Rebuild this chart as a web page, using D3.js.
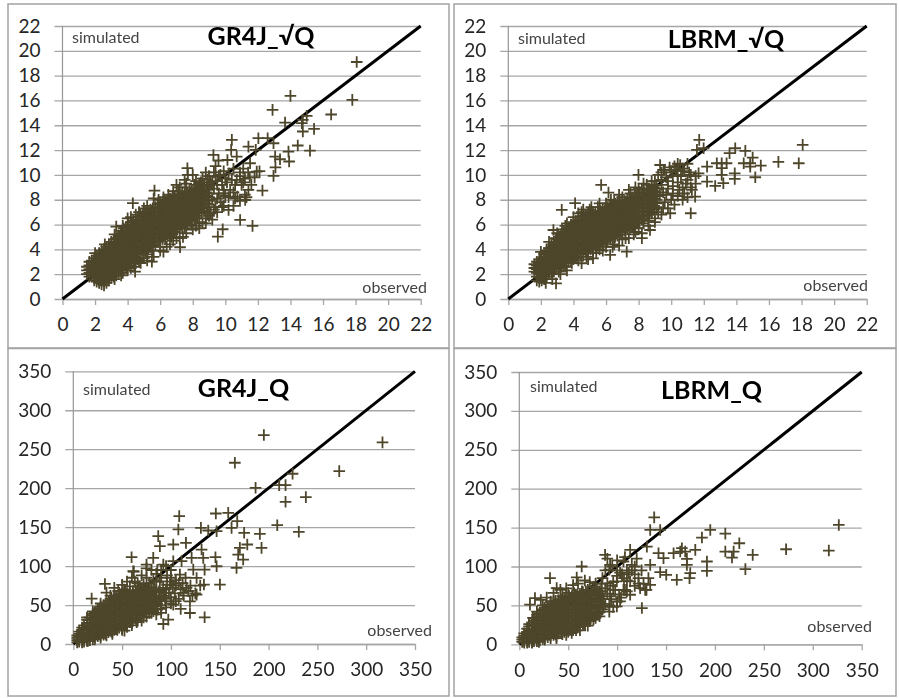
<!DOCTYPE html>
<html>
<head>
<meta charset="utf-8">
<script src="https://cdnjs.cloudflare.com/ajax/libs/d3/7.8.5/d3.min.js"></script>
<style>
  html, body { margin: 0; background: #fff; }
  svg { display: block; filter: blur(0.4px); }
  text { font-family: Lato, "Open Sans", sans-serif; }
</style>
</head>
<body>
<script>
const w = 899;
const h = 698;

const sqrtTicks = [0, 2, 4, 6, 8, 10, 12, 14, 16, 18, 20, 22];
const flowTicks = [0, 50, 100, 150, 200, 250, 300, 350];
const diagonalSqrt = [[0, 0], [22, 22]];
const diagonalFlow = [[0, 0], [350, 350]];

// the separate crosses, [observed, simulated]
const gr4jSqrtPoints = [[18.07,19.1],[17.8,16.05],[14,16.37],[12.9,15.24],[16.5,14.87],[15,14.76],[14.76,14.44],[13.67,14.22],[15.45,13.71],[14.7,14.17],[14.76,13.5],[14.45,12.37],[15.2,11.96],[13.88,11.88],[13.92,11.08],[13.36,11.26],[13.06,11.48],[13.08,10.6],[12.96,9.92],[12.03,12.96],[12.6,12.96],[12.96,12.55],[11.42,12.28],[11.87,12.02],[10.4,12.82],[10.36,12.02],[9.27,11.61],[9.58,11.16],[10.7,11.48],[10.13,11.2],[7.67,10.54],[11.52,10.94],[11.93,10.27],[12.28,8.74],[11.42,8.79],[11.22,7.98],[10.91,6.37],[11.67,5.89],[9.84,5.62],[9.54,5.03],[10.2,7.18],[10.74,8.25],[5.65,8.74],[4.32,7.72],[3.3,5.83],[7.22,4.17],[6.2,3.82],[5.49,3.01],[4.46,2.2],
  [9.3,8.9],[9.5,9.5],[9.7,10],[9.9,10.3],[10,9.7],[10.2,10.1],[9.4,9.9],[9.8,9.2],[10.4,9.6],[10.6,9.2],[10.9,9.9],[11.2,9.7],[11.4,10.2],[11.1,10.5],[10.5,10.5],[9.6,8.5],[10,8.3],[10.3,8.8],[9.2,8],[9.7,7.8],[10.9,7.9],[11.3,8.2],[10.6,8.1],[9.3,7.2],[9.1,6.9],[8.8,6.5],[8.4,6.2],[7.9,6],[7.4,5],[7,4.9],[6.6,4.4],[6,4.2],[5.5,3.9],[5,3.3],[4.7,3],[4.2,2.5],[3.7,2.1],[5.6,8.1],[6.2,8.2],[6.8,8.7],[7.2,9],[7.6,9.3],[7.7,10],[8.2,9.5],[8.6,9.7],[9,9.9],[9.4,10.7],[5,7.3],[4.5,6.8],[4,6.5],[11.8,9.8],[12.1,10.3],[11.6,9.2],[11,9.2],
  [7,9.2],[7.5,9.6],[8,10],[8.4,9.3],[8.8,10.2],[9.1,9.4],[9.5,9.2],[8.2,5.9],[8.6,6.1],[9,6.7],[9.4,7.4],[9.8,7.4],[9.9,8.8],[10.1,9.4],[10.5,8.6],[10.7,9.6],[10.9,10.2],[11.1,9.4],[11.5,9.8],[11.2,8.4],[10.2,8.2],[10.5,7.5],[9.5,8.1],[9.9,8.5],[9.2,9.4],[9.6,9.9],[9.3,10.2],[8.9,9.6],[8.5,9.4],[8.1,9.2],[7.6,9],[7.1,8.7],[6.5,8.4],[5.9,8],[5.2,7.5],[4.7,7],[4.2,6.6],[3.7,5.9],[3.2,5.2],[2.6,4.4],[2,3.7],[3.2,1.6],[3.6,1.9],[4,2.3],[4.4,2.6],[4.8,2.9],[5.2,3.1],[5.6,3.4],[6,3.9],[6.4,4.2],[6.8,4.7],[7.2,4.9],[7.6,5.3],[8,5.6],[8.4,5.7],[8.8,6.1],[9.2,6.4],[9.5,7],[9.9,7.5],[5.2,3.6],[4.6,3.2],[6.7,5],[7.5,5.7],[8.3,6.5],[8.9,6.9]];
const lbrmSqrtPoints = [[18.07,12.42],[17.83,10.94],[16.58,11.05],[15.5,10.75],[15.16,9.81],[15,11.4],[14.55,11.94],[13.93,12.15],[13.58,11.75],[14.45,10.94],[14.85,10.94],[14.85,10.67],[13.9,10.13],[13.9,9.68],[13.2,9.33],[12.7,9.11],[13.1,10],[13.1,10.54],[12.8,10.94],[13.1,10.94],[13.4,10.94],[12.2,9.46],[12.2,10.67],[11.68,10.13],[11.72,12.82],[11.58,12.02],[11.99,12.15],[11.2,6.91],[11.47,8.25],[11.27,8.79],[9.32,10.8],[9.53,10.4],[10.55,10.8],[7.99,10],[5.7,9.19],[6.15,8.58],[4.1,7.72],[3.28,7.18],[2.77,5.56],[2.93,1.26],[7.27,3.82],[8.2,4.9],[8.7,5.56],[9.94,6.91],[6.25,3.55],[5.2,3.28],[4.5,2.88],
  [9.4,9.6],[9.7,9.8],[10,10.2],[10.3,10.4],[10.6,9.9],[9.5,8.6],[9.8,8.9],[10.1,9.1],[10.4,9.4],[10.7,9],[11,9.6],[11.2,10],[11.5,9.3],[9.6,7.8],[10,8],[10.4,8.3],[10.8,8.5],[9.2,7],[9,6.5],[8.6,6.3],[8,5.7],[7.7,5.2],[7.2,4.9],[6.8,4.3],[6.4,4.2],[5.8,3.9],[5.4,3.7],[4.9,3.2],[3.2,2],[3.6,2.3],[2.9,4.9],[3.3,5.6],[3.6,6.1],[4.6,7.2],[5.1,7.4],[5.6,7.7],[6.3,8],[6.8,8.4],[7.4,8.8],[7.8,9],[8.3,9.3],[8.8,9.5],[9.2,10],[9.6,10.4],[10.2,10.7],[10.7,10.5],[11,10.9],[4.3,6.9],
  [2.3,1.3],[2.7,1.6],[3.1,2.2],[3.5,2.6],[3.9,2.9],[4.3,3.1],[4.8,3.4],[5.2,3.7],[5.6,4],[6,4.2],[6.5,4.4],[7,4.8],[7.4,4.9],[7.8,5.4],[8.2,5.3],[8.6,5.9],[9,6.2],[9.4,6.8],[9.8,7.3],[8.8,6.9],[8.3,6.1],[2,3.8],[2.5,4.6],[3,5.3],[3.5,5.9],[4,6.6],[4.5,7],[5,7.2],[5.5,7.4],[6,7.7],[6.5,7.9],[7,8.2],[7.5,8.5],[8,8.9],[8.5,9.2],[9,9.5],[9.4,9.2],[9.8,9.5],[10.1,9.9],[10.4,10],[10.8,10.3],[11.1,10.2],[9.3,8.4],[9.7,8.4],[10.1,8.5],[10.5,8.8],[10.9,9.3],[11.2,9],[11.5,9.9],[9.5,7.3],[10.2,7.6],[10.7,8],[11,8.2],[9.4,10.2],[9.9,10.6],[10.4,10.9]];
const gr4jFlowPoints = [[316.7,258.8],[272.4,221.9],[195.2,268.2],[165.5,232.6],[224.6,218.5],[186.7,200.5],[210.9,203.9],[217.4,203.9],[217.4,182.5],[238.2,188.5],[208.9,152.5],[231,144],[191.1,141.4],[192.8,123.4],[178.2,127.7],[175,142.7],[170.6,123.4],[168.9,114.8],[174,108.4],[167.2,97.7],[146,167.5],[158.7,168.4],[167.9,157.7],[162.1,149.1],[146.8,144.8],[138.2,145.7],[130.7,149.1],[108.5,164.1],[107.6,147],[87,138.4],[88.7,125.5],[102.4,127.7],[115.4,129.8],[131.4,121.2],[133.1,110.5],[145.6,111.4],[146.8,99.8],[150.2,76.3],[133.8,76.3],[134.5,34.3],[119.5,39.8],[97.3,31.3],[92.2,25.7],[59.7,111.4],[32.4,77.1],[18.8,58.3],[81.9,110.5],[52.4,17.1],[126.3,63.4],[112.6,65.6],[119.5,54.8],[102.4,50.6],[121.2,110.5],[122.9,95.5],[109.2,89.1],[126.3,84.8],[134.5,95.5],[75,102],[61.4,93.4],[88.7,80.5],[99,76.3],[93.9,65.6],[102.4,106.3],[92.2,102],[110.9,106.3],
  [34,66],[42,72],[50,76],[55,80],[60,85],[62,93],[70,88],[66,78],[75,85],[80,95],[85,90],[90,95],[95,100],[85,80],[75,97],[40,15],[50,20],[60,24],[65,28],[70,30],[75,35],[80,40],[85,38],[90,45],[95,55],[100,60],[105,55],[110,45],[95,70],[100,80],[105,75],[110,70],[115,85],[90,60],[85,70],[100,95],[120,75],[125,65],[130,75],[85,55],
  [83,48],[86,52],[88,57],[90,50],[92,62],[88,68],[84,62],[94,58],[96,76],[98,66],[100,85],[102,72],[105,82],[108,78],[92,72],[96,88],[90,85],[86,95],[82,82],[78,78],[72,76],[68,74],[63,80],[58,74],[52,70],[46,68],[38,62],[28,52],[20,42],[14,34],[15,4],[22,6],[28,8],[34,11],[40,13],[45,18],[50,18],[55,22],[60,27],[66,30],[72,34],[78,40],[82,42],[86,44],[90,40],[95,47],[100,52],[108,58],[113,62],[118,68],[122,62],[112,78],[104,65],[116,72]];
const lbrmFlowPoints = [[326.6,153.4],[316.4,120.5],[272.7,122.2],[238.6,115],[231.1,96.6],[224.9,129.9],[210.6,142.3],[195.2,147],[186.7,137.2],[210.6,119.2],[219.1,119.2],[217.4,111.5],[191.8,106.4],[191.8,94.4],[179.9,121.4],[166.2,123.5],[164.5,119.2],[157.7,117.1],[169.6,119.2],[171.3,109.8],[171.3,102.1],[174.7,91.5],[174,85],[161,82.9],[150.2,89.3],[144,92.7],[137.9,163.2],[133.8,147],[144,147],[142.3,117.1],[147.4,110.7],[133.8,102.1],[125.3,46.6],[128.7,70],[133.8,76.5],[121.8,85],[113.3,121.4],[130.4,125.6],[87.7,115],[31.4,85],[63.8,100],[58.7,85.9],[99.7,48.7],[113.3,63.7],[67.2,24.4],[53.6,14.5],[75.8,31.6],[10.9,50.9],[16,59.4],[38.2,72.2],[92.8,102.1],[106.5,106.4],[115,102.1],[99.7,80.8],[113.3,80.8],[123.5,72.2],[106.5,70],[92.8,61.5],[103,55.1],
  [22,57],[28,60],[35,66],[42,70],[48,72],[55,76],[60,78],[67,82],[72,80],[78,78],[85,85],[88,95],[90,110],[95,100],[100,95],[84,72],[90,78],[96,70],[86,58],[92,50],[85,45],[80,40],[72,30],[65,26],[58,18],[48,12],[38,8],[105,90],[110,95],[118,90],[125,95],
  [82,55],[85,62],[88,72],[84,68],[90,65],[93,75],[96,80],[100,88],[103,92],[107,85],[110,82],[112,92],[115,95],[98,70],[102,64],[108,70],[94,58],[88,52],[86,48],[92,42],[96,48],[100,55],[104,60],[110,68],[118,75],[122,78],[127,78],[130,70],[132,85],[118,100],[120,110],[108,112],[100,108],[92,96],[84,78],[76,74],[70,70],[64,68],[56,66],[50,66],[44,62],[32,55],[24,50],[18,42],[14,34],[10,26],[13,2],[20,3],[26,6],[32,8],[38,10],[44,13],[50,16],[55,18],[60,22],[66,26],[72,30],[78,34],[82,36],[70,24],[62,18]];

// overplotted core: observed value first, then the simulated values at it
const gr4jSqrtCore = [[1.5,2.0,2.3,2.6],[1.65,1.8,2.1,2.4,2.7,3.0],[1.8,1.9,2.2,2.5,2.8,3.1],[1.95,1.5,1.8,2.1,2.4,2.7,3.0,3.3],[2.1,1.4,1.7,2.0,2.3,2.6,2.9,3.2,3.5],[2.25,1.3,1.6,1.9,2.2,2.5,2.8,3.1,3.4,3.7],[2.4,1.2,1.5,1.8,2.1,2.4,2.7,3.0,3.3,3.6,3.9],[2.55,1.1,1.4,1.7,2.0,2.3,2.6,2.9,3.2,3.5,3.8,4.0],[2.7,1.3,1.6,1.9,2.2,2.5,2.8,3.1,3.4,3.7,4.0,4.2],[2.85,1.5,1.8,2.1,2.4,2.7,3.0,3.3,3.6,3.9,4.2,4.4],[3.0,1.7,2.0,2.3,2.6,2.9,3.2,3.5,3.8,4.1,4.4,4.6],[3.15,1.8,2.1,2.4,2.7,3.0,3.3,3.6,3.9,4.2,4.5,4.8],[3.3,1.9,2.2,2.5,2.8,3.1,3.4,3.7,4.0,4.3,4.6,4.9],[3.45,2.1,2.4,2.7,3.0,3.3,3.6,3.9,4.2,4.5,4.8,5.1],[3.6,2.3,2.6,2.9,3.2,3.5,3.8,4.1,4.4,4.7,5.0,5.3,5.5],[3.75,2.4,2.7,3.0,3.3,3.6,3.9,4.2,4.5,4.8,5.1,5.4,5.7],[3.9,2.5,2.8,3.1,3.4,3.7,4.0,4.3,4.6,4.9,5.2,5.5,5.8],[4.05,2.7,3.0,3.3,3.6,3.9,4.2,4.5,4.8,5.1,5.4,5.7,6.0],[4.2,2.9,3.2,3.5,3.8,4.1,4.4,4.7,5.0,5.3,5.6,5.9,6.2],[4.35,3.0,3.3,3.6,3.9,4.2,4.5,4.8,5.1,5.4,5.7,6.0,6.3],[4.5,3.1,3.4,3.7,4.0,4.3,4.6,4.9,5.2,5.5,5.8,6.1,6.4],[4.65,3.3,3.6,3.9,4.2,4.5,4.8,5.1,5.4,5.7,6.0,6.3,6.6],[4.8,3.6,3.9,4.2,4.5,4.8,5.1,5.4,5.7,6.0,6.3,6.6,6.8],[4.95,3.7,4.0,4.3,4.6,4.9,5.2,5.5,5.8,6.1,6.4,6.7,6.9],[5.1,3.8,4.1,4.4,4.7,5.0,5.3,5.6,5.9,6.2,6.5,6.8,7.0],[5.25,4.0,4.3,4.6,4.9,5.2,5.5,5.8,6.1,6.4,6.7,7.0],[5.4,4.2,4.5,4.8,5.1,5.4,5.7,6.0,6.3,6.6,6.9,7.2],[5.55,4.3,4.6,4.9,5.2,5.5,5.8,6.1,6.4,6.7,7.0,7.3],[5.7,4.4,4.7,5.0,5.3,5.6,5.9,6.2,6.5,6.8,7.1,7.4],[5.85,4.6,4.9,5.2,5.5,5.8,6.1,6.4,6.7,7.0,7.3,7.6],[6.0,4.7,5.0,5.3,5.6,5.9,6.2,6.5,6.8,7.1,7.4,7.7],[6.15,4.8,5.1,5.4,5.7,6.0,6.3,6.6,6.9,7.2,7.5,7.8],[6.3,4.9,5.2,5.5,5.8,6.1,6.4,6.7,7.0,7.3,7.6,7.9],[6.45,5.1,5.4,5.7,6.0,6.3,6.6,6.9,7.2,7.5,7.8,8.0],[6.6,5.2,5.5,5.8,6.1,6.4,6.7,7.0,7.3,7.6,7.9,8.1],[6.75,5.3,5.6,5.9,6.2,6.5,6.8,7.1,7.4,7.7,8.0,8.2],[6.9,5.4,5.7,6.0,6.3,6.6,6.9,7.2,7.5,7.8,8.1,8.3],[7.05,5.6,5.9,6.2,6.5,6.8,7.1,7.4,7.7,8.0,8.3],[7.2,5.7,6.0,6.3,6.6,6.9,7.2,7.5,7.8,8.1,8.4],[7.35,5.8,6.1,6.4,6.7,7.0,7.3,7.6,7.9,8.2,8.5],[7.5,5.9,6.2,6.5,6.8,7.1,7.4,7.7,8.0,8.3,8.6],[7.65,6.1,6.4,6.7,7.0,7.3,7.6,7.9,8.2,8.5],[7.8,6.3,6.6,6.9,7.2,7.5,7.8,8.1,8.4,8.7],[7.95,6.4,6.7,7.0,7.3,7.6,7.9,8.2,8.5,8.8],[8.1,6.5,6.8,7.1,7.4,7.7,8.0,8.3,8.6,8.9],[8.25,6.7,7.0,7.3,7.6,7.9,8.2,8.5,8.8],[8.4,6.9,7.2,7.5,7.8,8.1,8.4,8.7,9.0],[8.55,7.0,7.3,7.6,7.9,8.2,8.5,8.8,9.1],[8.7,7.1,7.4,7.7,8.0,8.3,8.6,8.9,9.2],[8.85,7.4,7.7,8.0,8.3,8.6,8.9],[9.0,7.6,7.9,8.2,8.5,8.8,9.1]];
const lbrmSqrtCore = [[1.6,2.2,2.5,2.8],[1.75,1.5,1.8,2.1,2.4,2.7,3.0],[1.9,1.4,1.7,2.0,2.3,2.6,2.9,3.2],[2.05,1.5,1.8,2.1,2.4,2.7,3.0,3.3],[2.2,1.6,1.9,2.2,2.5,2.8,3.1,3.4,3.7],[2.35,1.8,2.1,2.4,2.7,3.0,3.3,3.6,3.9],[2.5,2.0,2.3,2.6,2.9,3.2,3.5,3.8,4.1],[2.65,2.1,2.4,2.7,3.0,3.3,3.6,3.9,4.2,4.4],[2.8,2.2,2.5,2.8,3.1,3.4,3.7,4.0,4.3,4.6],[2.95,2.4,2.7,3.0,3.3,3.6,3.9,4.2,4.5,4.8],[3.1,2.5,2.8,3.1,3.4,3.7,4.0,4.3,4.6,4.9],[3.25,2.6,2.9,3.2,3.5,3.8,4.1,4.4,4.7,5.0,5.2],[3.4,2.7,3.0,3.3,3.6,3.9,4.2,4.5,4.8,5.1,5.4],[3.55,2.9,3.2,3.5,3.8,4.1,4.4,4.7,5.0,5.3,5.6],[3.7,3.0,3.3,3.6,3.9,4.2,4.5,4.8,5.1,5.4,5.7],[3.85,3.1,3.4,3.7,4.0,4.3,4.6,4.9,5.2,5.5,5.8,6.0],[4.0,3.2,3.5,3.8,4.1,4.4,4.7,5.0,5.3,5.6,5.9,6.2],[4.15,3.3,3.6,3.9,4.2,4.5,4.8,5.1,5.4,5.7,6.0,6.3],[4.3,3.4,3.7,4.0,4.3,4.6,4.9,5.2,5.5,5.8,6.1,6.4],[4.45,3.6,3.9,4.2,4.5,4.8,5.1,5.4,5.7,6.0,6.3,6.6],[4.6,3.7,4.0,4.3,4.6,4.9,5.2,5.5,5.8,6.1,6.4,6.7],[4.75,3.8,4.1,4.4,4.7,5.0,5.3,5.6,5.9,6.2,6.5,6.8],[4.9,3.9,4.2,4.5,4.8,5.1,5.4,5.7,6.0,6.3,6.6,6.9],[5.05,4.0,4.3,4.6,4.9,5.2,5.5,5.8,6.1,6.4,6.7,7.0],[5.2,4.1,4.4,4.7,5.0,5.3,5.6,5.9,6.2,6.5,6.8,7.0],[5.35,4.2,4.5,4.8,5.1,5.4,5.7,6.0,6.3,6.6,6.9],[5.5,4.3,4.6,4.9,5.2,5.5,5.8,6.1,6.4,6.7,7.0],[5.65,4.4,4.7,5.0,5.3,5.6,5.9,6.2,6.5,6.8,7.1],[5.8,4.5,4.8,5.1,5.4,5.7,6.0,6.3,6.6,6.9,7.2],[5.95,4.6,4.9,5.2,5.5,5.8,6.1,6.4,6.7,7.0,7.3],[6.1,4.7,5.0,5.3,5.6,5.9,6.2,6.5,6.8,7.1,7.4],[6.25,4.8,5.1,5.4,5.7,6.0,6.3,6.6,6.9,7.2,7.5],[6.4,4.9,5.2,5.5,5.8,6.1,6.4,6.7,7.0,7.3,7.6],[6.55,5.0,5.3,5.6,5.9,6.2,6.5,6.8,7.1,7.4,7.7],[6.7,5.1,5.4,5.7,6.0,6.3,6.6,6.9,7.2,7.5,7.8],[6.85,5.2,5.5,5.8,6.1,6.4,6.7,7.0,7.3,7.6,7.8],[7.0,5.4,5.7,6.0,6.3,6.6,6.9,7.2,7.5,7.9],[7.15,5.5,5.8,6.1,6.4,6.7,7.0,7.3,7.6,7.9],[7.3,5.6,5.9,6.2,6.5,6.8,7.1,7.4,7.7,8.0],[7.45,5.7,6.0,6.3,6.6,6.9,7.2,7.5,7.8,8.1],[7.6,5.8,6.1,6.4,6.7,7.0,7.3,7.6,7.9,8.2],[7.75,5.9,6.2,6.5,6.8,7.1,7.4,7.7,8.0,8.3],[7.9,6.1,6.4,6.7,7.0,7.3,7.6,7.9,8.2,8.5],[8.05,6.2,6.5,6.8,7.1,7.4,7.7,8.0,8.3,8.6],[8.2,6.4,6.7,7.0,7.3,7.6,7.9,8.2,8.5,8.8],[8.35,6.5,6.8,7.1,7.4,7.7,8.0,8.3,8.6],[8.5,6.7,7.0,7.3,7.6,7.9,8.2,8.5,8.8],[8.65,6.8,7.1,7.4,7.7,8.0,8.3,8.6,8.9],[8.8,7.0,7.3,7.6,7.9,8.2,8.5,8.8,9.1],[8.95,7.2,7.5,7.8,8.1,8.4,8.7,9.0],[9.1,7.4,7.7,8.0,8.3,8.6,8.9,9.2]];
const gr4jFlowCore = [[4,2,5,8,11],[6,3,6,10,13,16],[9,2,5,9,13,18,21],[11,3,7,11,15,20,24],[14,4,8,13,17,22,26,31],[17,5,9,13,18,22,27,31,34],[20,6,10,15,19,24,28,33,37,39],[22,8,12,17,21,26,30,35,39,41],[25,10,14,19,23,28,32,37,41,44],[28,11,15,20,24,29,33,38,42,46,48],[31,12,16,21,25,30,34,39,43,48,50],[33,13,17,22,26,31,35,40,44,49,52],[36,15,19,24,28,33,37,42,46,51,55],[39,16,20,25,29,34,38,43,47,52,56,58],[42,18,22,27,31,36,40,45,49,54,58,60],[44,19,23,28,32,37,41,46,50,55,59,62],[47,21,25,30,34,39,43,48,52,57,61,63],[50,22,26,31,35,40,44,49,53,58,62,64],[53,24,28,33,37,42,46,51,55,60,64,66],[55,26,30,35,39,44,48,53,57,62,65],[58,28,32,37,41,46,50,55,59,64,67],[61,30,34,39,43,48,52,57,61,65,68],[64,32,36,41,45,50,54,59,63,67,69],[66,34,38,43,47,52,56,61,65,69],[69,37,41,46,50,55,59,64,68,70],[72,39,43,48,52,57,61,66,70],[75,42,46,51,55,60,64,68,72],[77,44,48,53,57,62,66,70],[80,46,50,55,59,64,68,73],[83,50,54,58,62,66,70]];
const lbrmFlowCore = [[3,3,6,9],[5,2,4,7,11,14],[8,2,5,8,12,16,20],[10,3,6,10,14,18,23],[13,3,6,10,15,19,24,28],[15,4,7,11,16,20,25,30,33],[18,4,8,12,17,21,26,30,35,38],[21,5,9,14,18,23,27,32,36,40],[24,7,11,16,20,25,29,34,38,43,45],[26,8,12,17,21,26,30,35,39,44,47],[29,9,13,18,22,27,31,36,40,45,49],[32,11,15,19,24,28,33,37,42,46,51],[35,12,16,21,25,30,34,39,43,48,52,55],[37,13,17,22,26,31,35,40,44,49,53,56],[40,14,18,23,27,32,36,41,45,50,54,57],[43,15,19,24,28,33,37,42,46,51,55,58],[46,16,20,25,29,34,38,43,47,52,56,60],[48,18,22,27,31,36,40,45,49,54,58,61],[51,19,23,28,32,37,41,46,50,55,59,62],[54,21,25,30,34,39,43,48,52,57,61,63],[57,22,26,31,35,40,44,49,53,58,62,64],[59,24,28,33,37,42,46,51,55,60,64],[62,26,30,35,39,44,48,53,57,62,65],[65,28,32,37,41,46,50,55,59,64,67],[68,30,34,39,43,48,52,57,61,66,68],[70,32,36,41,45,50,54,59,63,67],[73,33,37,42,46,51,55,60,64,68],[76,36,40,45,49,54,58,63,67,70],[79,38,42,47,51,56,60,65,69,71],[82,41,45,50,54,59,63,68]];

// layout of each panel, in pixels
const panels = [
  { title: "GR4J_√Q", ticks: sqrtTicks, diagonal: diagonalSqrt, points: gr4jSqrtPoints, core: gr4jSqrtCore,
    frame: [8, 4, 441, 344], xr: [62.5, 420.7], yr: [299, 26],
    titlePos: [261, 45], simPos: [72, 43], obsPos: [427, 293] },
  { title: "LBRM_√Q", ticks: sqrtTicks, diagonal: diagonalSqrt, points: lbrmSqrtPoints, core: lbrmSqrtCore,
    frame: [454, 4, 442, 344], xr: [508.3, 866.7], yr: [299, 26],
    titlePos: [726, 48], simPos: [518, 44], obsPos: [868, 291] },
  { title: "GR4J_Q", ticks: flowTicks, diagonal: diagonalFlow, points: gr4jFlowPoints, core: gr4jFlowCore,
    frame: [8, 348.5, 441, 347.5], xr: [73.3, 415], yr: [644, 371.3],
    titlePos: [243.5, 397], simPos: [83, 395], obsPos: [432, 636] },
  { title: "LBRM_Q", ticks: flowTicks, diagonal: diagonalFlow, points: lbrmFlowPoints, core: lbrmFlowCore,
    frame: [454, 348.5, 442, 347.5], xr: [519.3, 861.7], yr: [644.3, 372],
    titlePos: [711.5, 399], simPos: [530, 392], obsPos: [872, 632] }
];

const svg = d3.select("body").append("svg")
  .attr("width", w)
  .attr("height", h);

panels.forEach(drawPanel);

function drawPanel(p) {
  const top = p.ticks[p.ticks.length - 1];
  const x = d3.scaleLinear().domain([0, top]).range(p.xr);
  const y = d3.scaleLinear().domain([0, top]).range(p.yr);
  const g = svg.append("g");

  g.append("rect")
    .attr("x", p.frame[0])
    .attr("y", p.frame[1])
    .attr("width", p.frame[2])
    .attr("height", p.frame[3])
    .attr("fill", "#fff")
    .attr("stroke", "#a3a3a3")
    .attr("stroke-width", 1.5);

  // grid lines are the y ticks, drawn from the right edge to past the axis
  const yAxis = g.append("g")
    .attr("transform", "translate(" + p.xr[1] + ",0)")
    .call(d3.axisLeft(y).tickValues(p.ticks).tickSize(p.xr[1] - p.xr[0] + 8).tickPadding(14));
  yAxis.select(".domain").remove();

  const xAxis = g.append("g")
    .attr("transform", "translate(0," + p.yr[0] + ")")
    .call(d3.axisBottom(x).tickValues(p.ticks).tickSizeInner(6).tickSizeOuter(0).tickPadding(13));

  g.append("line")
    .attr("x1", x(0))
    .attr("x2", x(0))
    .attr("y1", y(0))
    .attr("y2", y(top))
    .attr("stroke", "#969696")
    .attr("stroke-width", 1.2);

  g.selectAll(".tick line, .domain")
    .attr("stroke", "#a6a6a6")
    .attr("stroke-width", 1.3);
  g.selectAll(".tick text")
    .attr("fill", "#262626")
    .style("font-size", "19px");

  g.append("path")
    .attr("d", d3.line().x(d => x(d[0])).y(d => y(d[1]))(p.diagonal))
    .attr("stroke", "#000")
    .attr("stroke-width", 3)
    .attr("fill", "none");

  const corePoints = p.core.flatMap(c => c.slice(1).map(s => [c[0], s]));
  g.selectAll(".cross")
    .data(corePoints.concat(p.points))
    .enter()
    .append("path")
    .attr("class", "cross")
    .attr("d", "M-5.8,0H5.8M0,-5.8V5.8")
    .attr("transform", d => "translate(" + x(d[0]) + "," + y(d[1]) + ")")
    .attr("stroke", "#4d462b")
    .attr("stroke-width", 1.8)
    .attr("fill", "none");

  g.append("text")
    .attr("x", p.simPos[0])
    .attr("y", p.simPos[1])
    .attr("fill", "#444")
    .style("font-size", "16px")
    .text("simulated");
  g.append("text")
    .attr("x", p.obsPos[0])
    .attr("y", p.obsPos[1])
    .attr("text-anchor", "end")
    .attr("fill", "#444")
    .style("font-size", "16px")
    .text("observed");
  g.append("text")
    .attr("x", p.titlePos[0])
    .attr("y", p.titlePos[1])
    .attr("text-anchor", "middle")
    .attr("fill", "#000")
    .style("font-size", "25px")
    .style("font-weight", "bold")
    .text(p.title);
}
</script>
</body>
</html>
